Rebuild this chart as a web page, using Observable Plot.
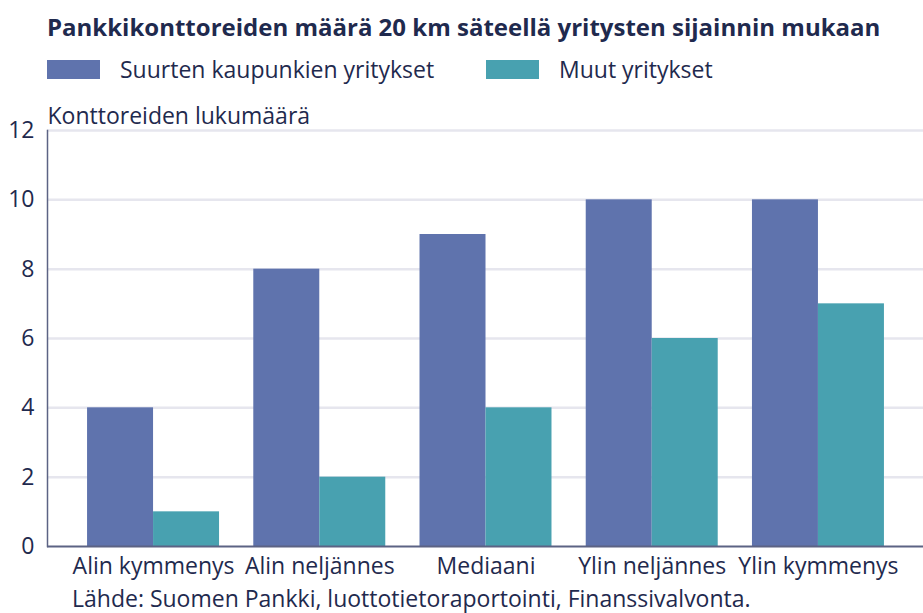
<!DOCTYPE html>
<html>
<head>
<meta charset="utf-8">
<script src="https://cdn.jsdelivr.net/npm/d3@7"></script>
<script src="https://cdn.jsdelivr.net/npm/@observablehq/plot@0.6"></script>
<style>
  html, body { margin: 0; padding: 0; background: #fff; }
  body { width: 923px; height: 613px; position: relative; overflow: hidden; font-family: "Open Sans", Lato, sans-serif; color: #1f2a4e; }
  #title { position: absolute; left: 47px; top: 10px; font-size: 24px; line-height: 34px; font-weight: 700; white-space: nowrap; }
  .leg { position: absolute; top: 54px; font-size: 23px; line-height: 30px; white-space: nowrap; display: flex; align-items: center; }
  .leg .sw { width: 53px; height: 19px; margin-right: 20px; }
  #chart { position: absolute; left: 0; top: 100px; }
  #caption { position: absolute; left: 72px; top: 583px; font-size: 23px; line-height: 30px; white-space: nowrap; }
</style>
</head>
<body>
<div id="title"></div>
<div id="leg1" class="leg" style="left:47px"><span class="sw"></span><span class="lt"></span></div>
<div id="leg2" class="leg" style="left:486px"><span class="sw"></span><span class="lt"></span></div>
<div id="chart"></div>
<div id="caption"></div>
<script>
const titleText = "Pankkikonttoreiden määrä 20 km säteellä yritysten sijainnin mukaan";
const yLabel = "Konttoreiden lukumäärä";
const captionText = "Lähde: Suomen Pankki, luottotietoraportointi, Finanssivalvonta.";
const categories = ["Alin kymmenys", "Alin neljännes", "Mediaani", "Ylin neljännes", "Ylin kymmenys"];
const seriesNames = ["Suurten kaupunkien yritykset", "Muut yritykset"];
const suurtenKaupunkien = [4, 8, 9, 10, 10];
const muut = [1, 2, 4, 6, 7];
const yTicks = [0, 2, 4, 6, 8, 10, 12];
const colors = ["#5f73ad", "#48a1b0"];
const textColor = "#1f2a4e";
const barWidth = 0.397;           // width of one bar, in category units
const xDomain = [-0.638, 4.632];  // category index range spanned by the plot frame

const table = [];
categories.forEach((c, i) => {
  table.push({cat: c, idx: i, series: seriesNames[0], value: suurtenKaupunkien[i], x1: i - barWidth, x2: i});
  table.push({cat: c, idx: i, series: seriesNames[1], value: muut[i], x1: i, x2: i + barWidth});
});

document.getElementById("title").textContent = titleText;
document.getElementById("caption").textContent = captionText;
["leg1", "leg2"].forEach((id, i) => {
  const el = document.getElementById(id);
  el.querySelector(".sw").style.background = colors[i];
  el.querySelector(".lt").textContent = seriesNames[i];
});

const chart = Plot.plot({
  width: 923,
  height: 490,
  marginLeft: 47,
  marginRight: 0,
  marginTop: 30,
  marginBottom: 44,
  style: {color: textColor, fontFamily: "'Open Sans', Lato, sans-serif", background: "transparent"},
  x: {domain: xDomain, label: null},
  y: {domain: [0, 12], label: null},
  color: {domain: seriesNames, range: colors},
  marks: [
    Plot.ruleY(yTicks.filter(d => d > 0), {stroke: "#e6e6ee", strokeWidth: 2.5}),
    Plot.rectY(table, {x1: "x1", x2: "x2", y: "value", fill: "series"}),
    Plot.ruleY([0], {stroke: "#5c6384", strokeWidth: 2}),
    Plot.frame({anchor: "left", stroke: "#5c6384", strokeWidth: 1.5}),
    Plot.axisY({ticks: yTicks, tickSize: 0, tickPadding: 13, fontSize: 23, label: null}),
    Plot.axisX({ticks: d3.range(categories.length), tickFormat: i => categories[i], tickSize: 0, tickPadding: 11, fontSize: 23, label: null}),
    Plot.text([yLabel], {frameAnchor: "top-left", textAnchor: "start", lineAnchor: "bottom", dy: -7, fontSize: 23, fill: textColor})
  ]
});
document.getElementById("chart").appendChild(chart);
</script>
</body>
</html>
